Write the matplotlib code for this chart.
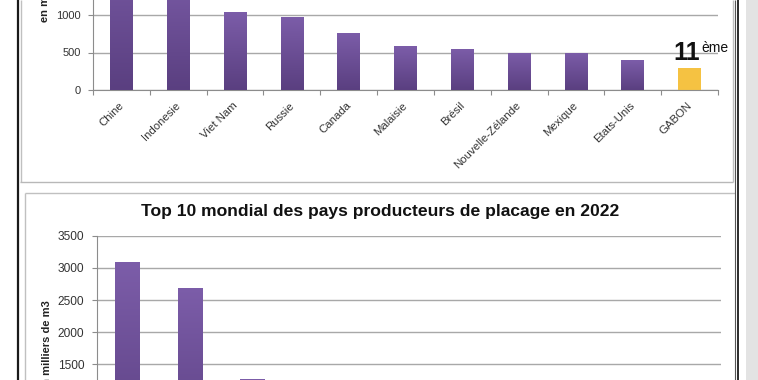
import numpy as np
import matplotlib
matplotlib.use("Agg")
import matplotlib.pyplot as plt
from matplotlib.lines import Line2D
from matplotlib.patches import Rectangle
from matplotlib.colors import LinearSegmentedColormap
from matplotlib.transforms import ScaledTranslation

plt.rcParams['font.family'] = ['Liberation Sans', 'DejaVu Sans']

# ---------------- data ----------------
top_categories = ["Chine", "Indonesie", "Viet Nam", "Russie", "Canada", "Malaisie",
                  "Brésil", "Nouvelle-Zélande", "Mexique", "Etats-Unis", "GABON"]
top_values = [2100, 1700, 1045, 980, 765, 585, 550, 500, 500, 395, 300]
top_yticks = [0, 500, 1000, 1500, 2000, 2500]
top_ylabel = "en milliers de m3"
rank_main = "11"
rank_sup = "ème"

bottom_title = "Top 10 mondial des pays producteurs de placage en 2022"
bottom_categories = ["Chine", "Viet Nam", "Indonesie", "Russie", "Inde", "Brésil",
                     "Canada", "Etats-Unis", "Malaisie", "GABON"]
bottom_values = [3090, 2690, 1270, 1150, 900, 700, 600, 500, 400, 350]
bottom_yticks = [0, 500, 1000, 1500, 2000, 2500, 3000, 3500]
bottom_ylabel = "en milliers de m3"

# ---------------- figure ----------------
W, H = 758, 380
fig = plt.figure(figsize=(W / 100, H / 100), dpi=100)
fig.patch.set_facecolor("white")

def fx(px):
    return px / W

def fy(py):
    return 1 - py / H

purple_cmap = LinearSegmentedColormap.from_list("pg", ["#5a3f80", "#7c5da9"])
GRID = "#a8a8a8"
AXC = "#8c8c8c"
TXT = "#333333"


def style_axes(ax, n, ymax, yticks):
    ax.set_facecolor("none")
    ax.set_xlim(-0.5, n - 0.5)
    ax.set_ylim(0, ymax)
    ax.set_yticks(yticks)
    ax.set_axisbelow(True)
    ax.yaxis.grid(True, color=GRID, lw=1.0)
    for s in ["top", "right"]:
        ax.spines[s].set_visible(False)
    for s in ["left", "bottom"]:
        ax.spines[s].set_color(AXC)
        ax.spines[s].set_linewidth(0.8)
    ax.set_xticks(np.arange(n + 1) - 0.5)
    ax.set_xticklabels([])
    ax.tick_params(axis="x", which="major", length=3.5, color=AXC, width=0.8)
    ax.tick_params(axis="y", which="major", length=3.5, color=AXC, width=0.8,
                   pad=5.5, labelcolor=TXT)


def draw_bars(ax, values, colors_flat):
    x = np.arange(len(values))
    bars = ax.bar(x, values, width=0.4, color=[c if c else "#6a4e96" for c in colors_flat],
                  zorder=2, linewidth=0)
    grad = np.linspace(0, 1, 256).reshape(-1, 1)
    for xi, v, b, c in zip(x, values, bars, colors_flat):
        if c is None:
            im = ax.imshow(grad, extent=(xi - 0.2, xi + 0.2, 0, v), origin="lower",
                           cmap=purple_cmap, aspect="auto", zorder=3)
            im.set_clip_path(b)
    return bars


def category_labels(ax, cats):
    ax.set_xticks(np.arange(len(cats)), minor=True)
    labels = ax.set_xticklabels(cats, minor=True, rotation=45, ha="right", va="top",
                                rotation_mode="anchor", fontsize=8.2, color=TXT)
    ax.tick_params(axis="x", which="minor", length=0, pad=6)
    shift = ScaledTranslation(-3 / 100, -2 / 100, fig.dpi_scale_trans)
    for lab in labels:
        lab.set_transform(lab.get_transform() + shift)


# ---------------- top chart ----------------
n1 = len(top_categories)
scale1 = 0.075
ax1 = fig.add_axes([fx(93), fy(90), (718 - 93) / W, 2500 * scale1 / H])
style_axes(ax1, n1, 2500, top_yticks)
ax1.tick_params(axis="y", labelsize=8)
cols1 = [None] * (n1 - 1) + ["#f5c242"]
draw_bars(ax1, top_values, cols1)
ax1.set_xlim(-0.5, n1 - 0.5)
ax1.set_ylim(0, 2500)
category_labels(ax1, top_categories)

ax1.annotate(rank_main, xy=(n1 - 1, top_values[-1]), xytext=(10.5, 7.5),
             textcoords="offset pixels", ha="right", va="baseline",
             fontsize=18, fontweight="bold", color="#111111")
ax1.annotate(rank_sup, xy=(n1 - 1, top_values[-1]), xytext=(11.5, 15.5),
             textcoords="offset pixels", ha="left", va="baseline",
             fontsize=10, color="#111111")

fig.text(fx(45), fy(22), top_ylabel, rotation=90, ha="center", va="bottom",
         fontsize=8, fontweight="bold", color="#222222")

# ---------------- bottom chart ----------------
n2 = len(bottom_categories)
scale2 = 32.17 / 500
ax2_bottom_px = 235.7 + 3500 * scale2
ax2 = fig.add_axes([fx(96.7), fy(ax2_bottom_px), (721 - 96.7) / W, 3500 * scale2 / H])
style_axes(ax2, n2, 3500, bottom_yticks)
ax2.tick_params(axis="y", labelsize=8.6)
draw_bars(ax2, bottom_values, [None] * n2)
ax2.set_xlim(-0.5, n2 - 0.5)
ax2.set_ylim(0, 3500)
category_labels(ax2, bottom_categories)

fig.text(fx(380), fy(212), bottom_title, ha="center", va="center",
         fontsize=12.6, fontweight="bold", color="#111111")
fig.text(fx(47.5), fy(300), bottom_ylabel, rotation=90, ha="center", va="top",
         fontsize=8, fontweight="bold", color="#222222")

# ---------------- page frame ----------------
def hline(y, x0, x1, color, lw):
    fig.add_artist(Line2D([fx(x0), fx(x1)], [fy(y), fy(y)], transform=fig.transFigure,
                          color=color, lw=lw, solid_capstyle="butt"))

def vline(x, y0, y1, color, lw):
    fig.add_artist(Line2D([fx(x), fx(x)], [fy(y0), fy(y1)], transform=fig.transFigure,
                          color=color, lw=lw, solid_capstyle="butt"))

# top chart box
vline(20.5, 0, 181.7, "#c0c0c0", 1.0)
vline(732.7, 0, 181.7, "#c0c0c0", 1.0)
hline(181.7, 20, 733, "#b8b8b8", 1.0)
# bottom chart box
hline(192.7, 25, 735, "#c0c0c0", 1.0)
vline(25.3, 192.7, 380, "#c0c0c0", 1.0)
# page borders
vline(18.3, 0, 380, "#1a1a1a", 1.6)
vline(735.2, 0, 380, "#555555", 0.8)
vline(737.8, 0, 380, "#1a1a1a", 1.3)
fig.add_artist(Rectangle((fx(746), 0), (W - 746) / W, 1, transform=fig.transFigure,
                         facecolor="#e3e3e3", edgecolor="none"))

fig.savefig("out.png", dpi=100)
